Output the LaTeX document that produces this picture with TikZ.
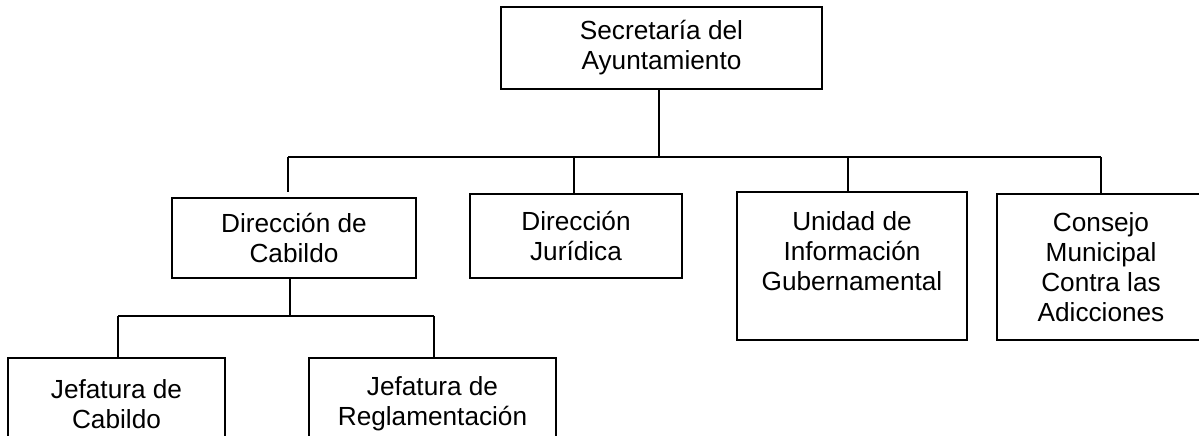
\documentclass[tikz,border=0pt]{standalone}
\usepackage{fontspec}
\setmainfont{Liberation Sans}
\begin{document}
\begin{tikzpicture}[x=1pt,y=-1pt,
  box/.style={draw=black,line width=1.2pt,fill=white,align=center,inner sep=0pt,
    font=\fontsize{26.2}{30}\selectfont},
  conn/.style={draw=black,line width=1.3pt}]
\useasboundingbox (0,0) rectangle (1199,436);
\clip (0,0) rectangle (1199,436);
% boxes
\node[box,minimum width=321pt,minimum height=82pt] (sec) at (661.5,48) {Secretaría del\\Ayuntamiento};
\node[box,minimum width=244pt,minimum height=80pt] (dc) at (294,238) {Dirección de\\Cabildo};
\node[box,minimum width=212pt,minimum height=84pt] (dj) at (576,236) {Dirección\\Jurídica};
\node[box,minimum width=230pt,minimum height=148pt] (uig) at (852,266) {Unidad de\\Información\\Gubernamental\\\mbox{}};
\node[box,minimum width=208pt,minimum height=146pt] (cm) at (1101,267) {Consejo\\Municipal\\Contra las\\Adicciones};
\node[box,minimum width=217pt,minimum height=92pt] (jc) at (116.5,404) {Jefatura de\\Cabildo};
\node[box,minimum width=247pt,minimum height=92pt] (jr) at (432.5,404) {Jefatura de\\Reglamentación};
% bus coordinates
\coordinate (bus) at (659,157);
\coordinate (b1) at (288,157);
\coordinate (b2) at (574,157);
\coordinate (b3) at (848,157);
\coordinate (b4) at (1101,157);
\coordinate (sbus) at (290,316);
\coordinate (s1) at (118,316);
\coordinate (s2) at (434,316);
% connectors
\draw[conn] (sec.south -| bus) -- (bus);
\draw[conn] (b1) -- (b4);
\draw[conn,shorten >=5pt] (b1) -- (b1 |- dc.north);
\draw[conn] (b2) -- (b2 |- dj.north);
\draw[conn] (b3) -- (b3 |- uig.north);
\draw[conn] (b4) -- (b4 |- cm.north);
\draw[conn] (dc.south -| sbus) -- (sbus);
\draw[conn] (s1) -- (s2);
\draw[conn] (s1) -- (s1 |- jc.north);
\draw[conn] (s2) -- (s2 |- jr.north);
\end{tikzpicture}
\end{document}
